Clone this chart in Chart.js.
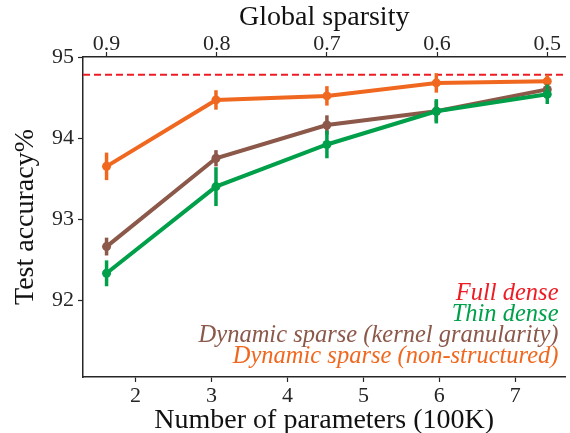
<!DOCTYPE html>
<html>
<head>
<meta charset="utf-8">
<script src="https://cdn.jsdelivr.net/npm/chart.js@4.4.0/dist/chart.umd.min.js"></script>
<style>
  html, body { margin: 0; padding: 0; background: #fff; overflow: hidden; }
  canvas { display: block; }
</style>
</head>
<body>
<canvas id="sparsityChart" width="570" height="433"></canvas>
<script>
// Data
const params = [1.62, 3.06, 4.52, 5.96, 7.42];      // number of parameters (100K)
const sparsity = [0.9, 0.8, 0.7, 0.6, 0.5];         // global sparsity (top axis)
const paramTicks = [2, 3, 4, 5, 6, 7];
const accTicks = [92, 93, 94, 95];

const fullDense = 94.78;
const thinDense = [92.33, 93.40, 93.92, 94.33, 94.54];
const thinDenseErr = [0.16, 0.24, 0.17, 0.15, 0.12];
const kernelSparse = [92.66, 93.75, 94.16, 94.33, 94.60];
const kernelSparseErr = [0.11, 0.10, 0.12, 0.13, 0.06];
const unstructSparse = [93.65, 94.47, 94.52, 94.68, 94.70];
const unstructSparseErr = [0.17, 0.12, 0.12, 0.12, 0.08];

const legendOrder = ['Full dense', 'Thin dense', 'Dynamic sparse (kernel granularity)', 'Dynamic sparse (non-structured)'];

const X_MIN = 1.31, X_MAX = 7.66;
const Y_MIN = 91.05, Y_MAX = 95.0;

const RED = '#ED1C24';
const GREEN = '#00A04B';
const BROWN = '#8B5849';
const ORANGE = '#F0681F';
const AXIS = '#262626';
const SERIF = "'Liberation Serif', 'DejaVu Serif', serif";

// top axis is a linear map of the bottom one
const slope = (sparsity[sparsity.length - 1] - sparsity[0]) / (params[params.length - 1] - params[0]);
const toSparsity = x => sparsity[0] + (x - params[0]) * slope;

const points = vals => vals.map((v, i) => ({ x: params[i], y: v }));

function seriesDataset(label, vals, errs, color) {
    return {
        label: label,
        data: points(vals),
        errors: errs,
        borderColor: color,
        backgroundColor: color,
        borderWidth: 4,
        pointRadius: 4.5,
        pointHoverRadius: 4.5,
        pointBorderWidth: 0,
        tension: 0,
        fill: false
    };
}

// Vertical error bars, drawn just under each dataset's line
const errorBars = {
    id: 'errorBars',
    beforeDatasetDraw(chart, args) {
        const ds = chart.data.datasets[args.index];
        if (!ds.errors) return;
        const { ctx, scales: { x, y } } = chart;
        ctx.save();
        ctx.strokeStyle = ds.borderColor;
        ctx.lineWidth = 3.5;
        ds.data.forEach((p, i) => {
            const px = x.getPixelForValue(p.x);
            ctx.beginPath();
            ctx.moveTo(px, y.getPixelForValue(p.y - ds.errors[i]));
            ctx.lineTo(px, y.getPixelForValue(p.y + ds.errors[i]));
            ctx.stroke();
        });
        ctx.restore();
    }
};

// Text-only legend in the lower right corner
const textLegend = {
    id: 'textLegend',
    afterDraw(chart) {
        const { ctx, chartArea } = chart;
        const n = legendOrder.length;
        ctx.save();
        ctx.font = 'italic 24.5px ' + SERIF;
        ctx.textAlign = 'right';
        ctx.textBaseline = 'middle';
        legendOrder.forEach((label, i) => {
            const ds = chart.data.datasets.find(d => d.label === label);
            ctx.fillStyle = ds.borderColor;
            ctx.fillText(label, chartArea.right - 7, chartArea.bottom - 20 - (n - 1 - i) * 21);
        });
        ctx.restore();
    }
};

const tickFont = { family: SERIF, size: 22 };
const titleFont = { family: SERIF, size: 28, lineHeight: 1 };

const ctx = document.getElementById('sparsityChart').getContext('2d');
const chart = new Chart(ctx, {
    type: 'line',
    data: {
        datasets: [
            seriesDataset('Thin dense', thinDense, thinDenseErr, GREEN),
            seriesDataset('Dynamic sparse (kernel granularity)', kernelSparse, kernelSparseErr, BROWN),
            seriesDataset('Dynamic sparse (non-structured)', unstructSparse, unstructSparseErr, ORANGE),
            {
                label: 'Full dense',
                data: [{ x: X_MIN, y: fullDense }, { x: X_MAX, y: fullDense }],
                borderColor: RED,
                backgroundColor: RED,
                borderWidth: 2,
                borderDash: [7, 4],
                pointRadius: 0
            }
        ]
    },
    options: {
        responsive: false,
        devicePixelRatio: 1,
        animation: false,
        layout: { padding: 0 },
        plugins: {
            legend: { display: false },
            tooltip: { enabled: false }
        },
        scales: {
            x: {
                type: 'linear',
                position: 'bottom',
                min: X_MIN,
                max: X_MAX,
                afterBuildTicks: s => { s.ticks = paramTicks.map(v => ({ value: v })); },
                afterFit: s => { s.height = 56; },
                ticks: { color: AXIS, font: tickFont, padding: 1, maxRotation: 0 },
                grid: { drawOnChartArea: false, tickLength: 5, color: AXIS, tickWidth: 1.2 },
                border: { color: AXIS, width: 1.5 },
                title: {
                    display: true,
                    text: 'Number of parameters (100K)',
                    color: '#111',
                    font: titleFont,
                    padding: { top: 0, bottom: -2 }
                }
            },
            x2: {
                type: 'linear',
                position: 'top',
                reverse: true,
                min: toSparsity(X_MAX),
                max: toSparsity(X_MIN),
                afterBuildTicks: s => { s.ticks = sparsity.map(v => ({ value: v })); },
                afterFit: s => { s.height = 57; },
                ticks: {
                    color: AXIS,
                    font: tickFont,
                    padding: -5,
                    maxRotation: 0,
                    callback: v => v.toFixed(1)
                },
                grid: { drawOnChartArea: false, tickLength: 5, color: AXIS, tickWidth: 1.2 },
                border: { color: AXIS, width: 1.5 },
                title: {
                    display: true,
                    text: 'Global sparsity',
                    color: '#111',
                    font: titleFont,
                    padding: { top: 4, bottom: 0 }
                }
            },
            y: {
                type: 'linear',
                position: 'left',
                min: Y_MIN,
                max: Y_MAX,
                afterBuildTicks: s => { s.ticks = accTicks.map(v => ({ value: v })); },
                afterFit: s => { s.width = 83; },
                ticks: { color: AXIS, font: tickFont, padding: 4 },
                grid: { drawOnChartArea: false, tickLength: 5, color: AXIS, tickWidth: 1.2 },
                border: { color: AXIS, width: 1.5 },
                title: {
                    display: true,
                    text: 'Test accuracy%',
                    color: '#111',
                    font: titleFont,
                    padding: { top: 12, bottom: 0 }
                }
            }
        }
    },
    plugins: [errorBars, textLegend]
});
</script>
</body>
</html>
